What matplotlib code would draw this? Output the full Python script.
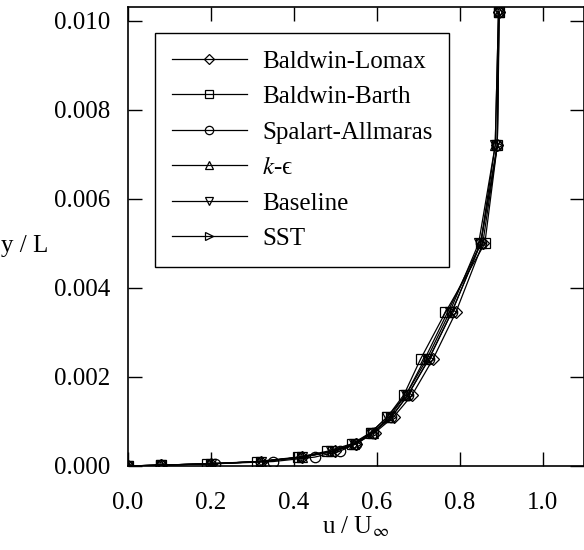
import matplotlib
matplotlib.use('Agg')
import matplotlib.pyplot as plt

plt.rcParams['font.family'] = ['Liberation Serif', 'DejaVu Serif']
plt.rcParams['mathtext.fontset'] = 'stix'

# профили скорости: y / L и u / U_inf для каждой модели
y_L = [0, 0.00002, 0.00005, 0.0001, 0.0002, 0.00033, 0.0005, 0.00075,
       0.0011, 0.0016, 0.0024, 0.00345, 0.0050, 0.0072, 0.0102]

u_lomax = [0, 0.08, 0.20, 0.32, 0.42, 0.50, 0.55, 0.595, 0.64, 0.685, 0.735, 0.79, 0.855, 0.89, 0.895]
u_barth = [0, 0.08, 0.19, 0.31, 0.41, 0.48, 0.54, 0.585, 0.625, 0.665, 0.705, 0.765, 0.86, 0.89, 0.893]
u_sa    = [0, 0.08, 0.21, 0.35, 0.45, 0.51, 0.55, 0.59, 0.635, 0.675, 0.725, 0.78, 0.85, 0.89, 0.894]
u_keps  = [0, 0.08, 0.20, 0.32, 0.42, 0.49, 0.545, 0.59, 0.63, 0.67, 0.715, 0.77, 0.85, 0.885, 0.893]
u_base  = [0, 0.08, 0.20, 0.32, 0.42, 0.49, 0.545, 0.585, 0.625, 0.67, 0.72, 0.775, 0.845, 0.885, 0.893]
u_sst   = [0, 0.08, 0.20, 0.32, 0.42, 0.495, 0.55, 0.59, 0.635, 0.675, 0.725, 0.78, 0.85, 0.89, 0.894]

series = [
    (u_lomax, 'D', 'Baldwin-Lomax'),
    (u_barth, 's', 'Baldwin-Barth'),
    (u_sa, 'o', 'Spalart-Allmaras'),
    (u_keps, '^', '$k$-ϵ'),
    (u_base, 'v', 'Baseline'),
    (u_sst, '>', 'SST'),
]

fs = 18

fig = plt.figure(figsize=(5.84, 5.5), dpi=100)
ax = fig.add_axes([128 / 584, 84 / 550, 456 / 584, 459 / 550])

for u, m, name in series:
    ms = 6 if m == 'D' else 7.5
    ax.plot(u, y_L, color='black', lw=0.9, marker=m, ms=ms,
            mfc='none', mec='black', mew=0.9, label=name)

ax.set_xlim(0, 1.099)
ax.set_ylim(0, 0.01031)
ax.set_xticks([0.0, 0.2, 0.4, 0.6, 0.8, 1.0])
ax.set_yticks([0.000, 0.002, 0.004, 0.006, 0.008, 0.010])
ax.set_xticklabels(['0.0', '0.2', '0.4', '0.6', '0.8', '1.0'])
ax.set_yticklabels(['0.000', '0.002', '0.004', '0.006', '0.008', '0.010'])
ax.tick_params(direction='in', length=10, width=1, labelsize=fs,
               top=True, right=True)
ax.tick_params(axis='y', pad=13)
ax.tick_params(axis='x', pad=19)
for s in ax.spines.values():
    s.set_linewidth(1.2)

ax.set_xlabel(r'u / U$_\infty$', fontsize=fs, labelpad=0)
ax.set_ylabel('y / L', fontsize=fs, rotation=0, va='center', ha='center')
ax.yaxis.set_label_coords(-0.226, 0.48)

leg = ax.legend(loc='upper left', bbox_to_anchor=(0.059, 0.943), borderaxespad=0,
                fontsize=fs, handlelength=3.0, handletextpad=0.6, labelspacing=0.52,
                borderpad=0.68, fancybox=False, edgecolor='black', framealpha=1)
leg.get_frame().set_linewidth(1)
for h in leg.get_lines():
    h.set_markersize(5 if h.get_marker() == 'D' else 6)

plt.savefig('out.png', dpi=100)
